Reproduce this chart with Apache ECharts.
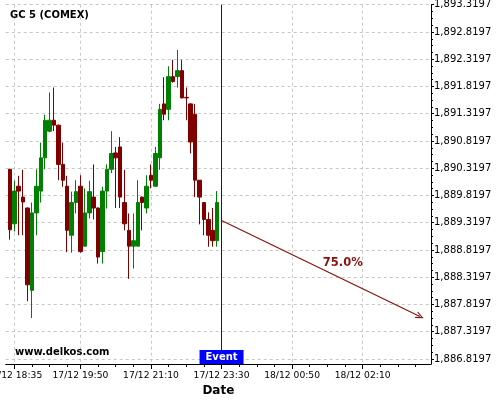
<!DOCTYPE html>
<html><head><meta charset="utf-8">
<script src="https://cdn.jsdelivr.net/npm/echarts@6/dist/echarts.min.js"></script>
<style>html,body{margin:0;padding:0;background:#fff}#c{width:500px;height:400px}</style>
</head><body><div id="c"></div>
<script>
// ---- data (5-minute bars, slot index 0 = 17/12 18:30) ----
const opens  = [1890.30,1889.30,1889.99,1889.79,1889.59,1888.08,1889.50,1889.90,1890.51,1891.00,
                1891.20,1891.11,1890.39,1889.99,1889.09,1889.69,1889.99,1888.89,1889.50,1889.79,
                1889.59,1888.79,1889.90,1890.30,1890.60,1890.71,1889.69,1889.18,1888.89,1888.89,
                1889.79,1889.59,1890.19,1889.99,1890.51,1891.50,1891.40,1892.00,1892.00,1892.11,
                1891.62,1891.50,1891.31,1890.10,1889.69,1889.38,1889.18,1888.99];
const closes = [1889.19,1889.90,1889.90,1889.70,1888.18,1889.50,1889.99,1890.51,1891.20,1891.20,
                1891.11,1890.39,1890.10,1889.18,1889.69,1889.89,1888.79,1889.50,1889.89,1889.59,
                1888.69,1889.90,1890.30,1890.59,1890.51,1889.79,1889.30,1888.89,1888.99,1889.69,
                1889.69,1889.99,1890.10,1890.59,1891.40,1891.31,1892.00,1891.91,1892.11,1891.61,
                1891.61,1890.80,1890.10,1889.79,1889.38,1889.09,1888.99,1889.69];
const lows   = [1889.01,1889.16,1889.09,1889.09,1887.88,1887.57,1889.09,1889.69,1890.30,1890.98,
                1891.00,1890.10,1889.98,1888.78,1888.77,1889.49,1888.77,1888.88,1889.40,1889.38,
                1888.57,1888.57,1889.58,1890.23,1889.59,1889.59,1889.18,1888.29,1888.48,1888.89,
                1889.18,1889.49,1889.95,1889.98,1890.29,1891.20,1891.20,1891.89,1891.80,1891.60,
                1891.20,1890.59,1889.79,1889.29,1889.09,1888.88,1888.88,1888.88];
const highs  = [1890.31,1890.09,1890.18,1890.29,1889.60,1889.69,1890.30,1890.79,1891.30,1891.71,
                1891.80,1891.12,1890.79,1890.18,1889.89,1890.10,1890.19,1889.95,1890.09,1890.39,
                1889.60,1889.98,1890.39,1891.00,1890.71,1890.89,1890.29,1889.49,1889.49,1890.10,
                1889.80,1890.19,1890.39,1890.71,1891.50,1891.99,1892.19,1892.31,1892.49,1892.31,
                1891.80,1891.51,1891.50,1890.10,1889.69,1889.51,1889.59,1889.90];

// x-axis labels (slot index of each labelled bar) and minor tick slots
const xLabelIdx = [1, 16, 32, 48, 64, 80];
const xLabels   = ['17/12 18:35','17/12 19:50','17/12 21:10','17/12 23:30','18/12 00:50','18/12 02:10'];
const xMinorIdx = [5,9,13,20,24,28,36,40,44,52,56,60,68,72,76,84,88,92];

// y-axis tick values
const yTicks = [1886.8197,1887.3197,1887.8197,1888.3197,1888.8197,1889.3197,1889.8197,
                1890.3197,1890.8197,1891.3197,1891.8197,1892.3197,1892.8197,1893.3197];

// event / forecast
const eventIdx = 48;
const eventLabel = 'Event';
const arrowFrom = [48, 1889.36];
const arrowTo   = [93, 1887.60];
const forecastText = '75.0%';
const forecastPos  = [75.5, 1888.58];
const titleText = 'GC 5 (COMEX)';
const watermark = 'www.delkos.com';

const yMin = 1886.728, yMax = 1893.3197;
const xMin = -0.95, xMax = 95.5;

const yMinor = [];
for (let k = 0; k < yTicks.length - 1; k++)
  for (let j = 1; j < 4; j++) yMinor.push(+(yTicks[k] + j * 0.125).toFixed(4));

function fmtY(v) {
  const s = Number(v).toFixed(4);
  const p = s.split('.');
  return p[0].replace(/\B(?=(\d{3})+(?!\d))/g, ',') + '.' + p[1];
}

const candles = opens.map((o, i) => [i, o, closes[i], lows[i], highs[i]]);

const FONT = 'DejaVu Sans';
const RED = '#800000', GREEN = '#008000', ARROW = '#8b1010';
const gridLine = { show: true, lineStyle: { color: '#c8c8c8', width: 1, type: [3, 3] } };

const chart = echarts.init(document.getElementById('c'), null, { renderer: 'canvas' });
chart.setOption({
  animation: false,
  backgroundColor: '#fff',
  textStyle: { fontFamily: FONT },
  grid: { left: 5.7, right: 69, top: 4.7, bottom: 36, containLabel: false, outerBoundsMode: 'none' },
  xAxis: [{
    type: 'value', min: xMin, max: xMax, position: 'bottom',
    axisLine: { show: true, onZero: false, lineStyle: { color: '#000', width: 1 } },
    axisTick: { show: true, customValues: xLabelIdx, length: 5, lineStyle: { color: '#000' } },
    axisLabel: { show: true, customValues: xLabelIdx, formatter: v => xLabels[xLabelIdx.indexOf(v)] || '',
                 fontSize: 9.2, color: '#000', margin: 7, fontFamily: FONT },
    splitLine: gridLine,
    name: 'Date', nameLocation: 'middle', nameGap: 18,
    nameTextStyle: { fontWeight: 'bold', fontSize: 12, color: '#000', fontFamily: FONT }
  }, {
    type: 'value', min: xMin, max: xMax, position: 'bottom',
    axisLine: { show: false, onZero: false },
    axisTick: { show: true, customValues: xMinorIdx, length: 3, lineStyle: { color: '#000' } },
    axisLabel: { show: false }, splitLine: { show: false }
  }],
  yAxis: [{
    type: 'value', min: yMin, max: yMax, position: 'right', scale: true,
    axisLine: { show: true, onZero: false, lineStyle: { color: '#000', width: 1 } },
    axisTick: { show: true, customValues: yTicks, length: 3, lineStyle: { color: '#000' } },
    axisLabel: { show: true, customValues: yTicks, formatter: fmtY, fontSize: 10, color: '#000', margin: 3, fontFamily: FONT },
    splitLine: gridLine
  }, {
    type: 'value', min: yMin, max: yMax, position: 'right', scale: true,
    axisLine: { show: false, onZero: false },
    axisTick: { show: true, customValues: yMinor, length: 2, lineStyle: { color: '#000' } },
    axisLabel: { show: false }, splitLine: { show: false }
  }],
  series: [{
    type: 'candlestick',
    xAxisIndex: 0, yAxisIndex: 0,
    data: candles,
    encode: { x: 0, y: [1, 2, 3, 4] },
    barWidth: 4,
    itemStyle: { color: GREEN, color0: RED, borderColor: GREEN, borderColor0: RED, borderWidth: 1 },
    markLine: {
      silent: true, animation: false,
      symbol: ['none', 'none'],
      label: { show: false },
      data: [
        { xAxis: eventIdx, lineStyle: { color: '#0000ff', width: 1, type: 'solid' } },
        [
          { coord: arrowFrom, symbol: 'none', lineStyle: { color: ARROW, width: 1.2, type: 'solid' } },
          { coord: arrowTo, symbol: 'path://M5,0 L10,10 L8.4,10 L5,3.2 L1.6,10 L0,10 Z', symbolSize: [7, 8] }
        ]
      ]
    },
    markPoint: {
      silent: true, animation: false,
      data: [
        { coord: [eventIdx, yMin], symbol: 'rect', symbolSize: [44, 14], symbolOffset: [0, -7],
          itemStyle: { color: '#0000ff' },
          label: { show: true, position: 'inside', formatter: eventLabel, color: '#fff', fontWeight: 'bold', fontSize: 10, fontFamily: FONT } },
        { coord: forecastPos, symbol: 'rect', symbolSize: 1, itemStyle: { color: 'rgba(0,0,0,0)' },
          label: { show: true, position: 'inside', formatter: forecastText, color: ARROW, fontWeight: 'bold', fontSize: 11.5, fontFamily: FONT } }
      ]
    }
  }],
  graphic: [
    { type: 'text', left: 10, top: 10, z: 100,
      style: { text: titleText, font: 'bold 10px "DejaVu Sans"', fill: '#000' } },
    { type: 'text', left: 15, top: 347, z: 100,
      style: { text: watermark, font: 'bold 10px "DejaVu Sans"', fill: '#000' } }
  ]
});
</script>
</body></html>
